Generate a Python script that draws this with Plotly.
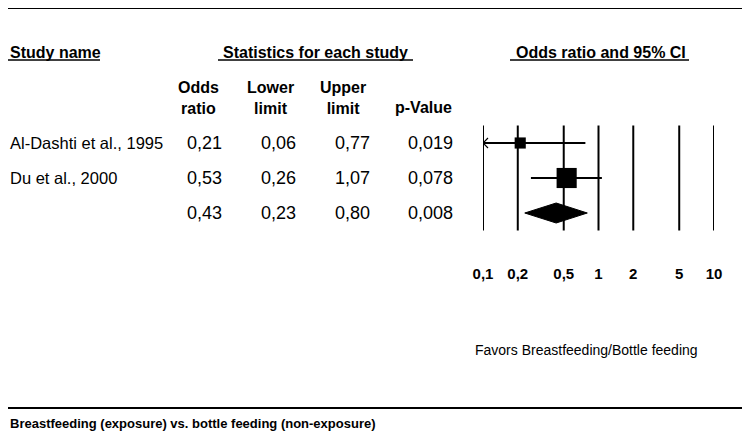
# forest plot: breastfeeding vs bottle feeding, odds ratios
import numpy as np
import plotly.graph_objects as go

# values
studies = ["Al-Dashti et al., 1995", "Du et al., 2000"]
odds_ratio = [0.21, 0.53]
lower = [0.06, 0.26]
upper = [0.77, 1.07]
p_value = [0.019, 0.078]
weights = [23.5, 76.5]  # relative weight (%), drives box size

pooled_or = 0.43
pooled_lower = 0.23
pooled_upper = 0.80
pooled_p = 0.008

or_ticks = [0.1, 0.2, 0.5, 1, 2, 5, 10]

# page geometry (pixels on the 750x434 page); the browser adds an 8px body margin
PAGE_W, PAGE_H = 750, 434
OFF = 8
FW, FH = PAGE_W - OFF, PAGE_H - OFF
FONT = "Liberation Sans, Arial, sans-serif"
ROW0, ROW_H = 108, 35        # row i sits at page y ROW0 + ROW_H*i
PLOT_BOTTOM = 263
X_LEFT, X_RIGHT = 483, 714   # 0.1 and 10 on the OR axis
DECADE_PX = (X_RIGHT - X_LEFT) / 2


def fmt(v, d=2):
    return f"{v:.{d}f}".replace(".", ",")


def px(p):
    return max(p - OFF, 0) / FW


def py(p):
    return 1 - max(p - OFF, 0) / FH


fig = go.Figure()

# study rows: CI line + weighted square
rows = list(range(1, len(studies) + 1))
xmin = or_ticks[0]
for r, o, lo, hi, w in zip(rows, odds_ratio, lower, upper, weights):
    lo_draw = max(lo, xmin)
    fig.add_trace(go.Scatter(x=[lo_draw, hi], y=[r, r], mode="lines",
                             line=dict(color="black", width=2), hoverinfo="skip"))
    if lo < xmin:
        # open arrowhead where the interval runs off the scale
        arm = xmin * 10 ** (5 / DECADE_PX)
        dy = 5 / ROW_H
        fig.add_trace(go.Scatter(x=[arm, xmin, arm], y=[r - dy, r, r + dy], mode="lines",
                                 line=dict(color="black", width=1.2), hoverinfo="skip"))
    fig.add_trace(go.Scatter(x=[o], y=[r], mode="markers",
                             marker=dict(symbol="square", color="black",
                                         size=23 * np.sqrt(w / 100), line=dict(width=0)),
                             hovertext=f"OR {fmt(o)} ({fmt(lo)}-{fmt(hi)})", hoverinfo="text"))

# pooled diamond
pr = len(studies) + 1
hd = 10 / ROW_H
fig.add_trace(go.Scatter(x=[pooled_lower, pooled_or, pooled_upper, pooled_or, pooled_lower],
                         y=[pr, pr - hd, pr, pr + hd, pr], mode="lines", fill="toself",
                         fillcolor="black", line=dict(color="black", width=1), hoverinfo="skip"))

shapes = []
# reference lines at each tick
for t in or_ticks:
    shapes.append(dict(type="line", xref="x", yref="y", x0=t, x1=t, y0=0.5, y1=pr + 0.5,
                       line=dict(color="black", width=2), layer="below"))
# rules at top and bottom of the figure
for yy in [8, 408]:
    shapes.append(dict(type="line", xref="paper", yref="paper", x0=0, x1=1,
                       y0=py(yy), y1=py(yy), line=dict(color="black", width=2)))
# header underlines
for x0, x1 in [(3, 100), (218, 413), (510, 689)]:
    shapes.append(dict(type="line", xref="paper", yref="paper", x0=px(x0), x1=px(x1),
                       y0=py(60), y1=py(60), line=dict(color="black", width=1.5)))

ann = []


def text(x, y, s, size=16, bold=False, anchor="center", yref="paper"):
    ann.append(dict(x=px(x), y=py(y) if yref == "paper" else y, xref="paper", yref=yref,
                    text=s, showarrow=False, xanchor=anchor, yanchor="middle",
                    font=dict(family=FONT, size=size, color="black",
                              weight="bold" if bold else "normal")))


text(3, 52, "Study name", bold=True, anchor="left")
text(315, 52, "Statistics for each study", bold=True)
text(601, 52, "Odds ratio and 95% CI", bold=True)
text(198, 98, "Odds<br>ratio", bold=True)
text(270, 98, "Lower<br>limit", bold=True)
text(343, 98, "Upper<br>limit", bold=True)
text(423, 107, "p-Value", bold=True)

# table columns, right edges in pixels
col_or, col_lo, col_hi, col_p = 224, 298, 372, 455
VS = 18  # value font size
for r, name, o, lo, hi, p in zip(rows, studies, odds_ratio, lower, upper, p_value):
    text(3, r, name, size=16.5, anchor="left", yref="y")
    text(col_or, r, fmt(o), size=VS, anchor="right", yref="y")
    text(col_lo, r, fmt(lo), size=VS, anchor="right", yref="y")
    text(col_hi, r, fmt(hi), size=VS, anchor="right", yref="y")
    text(col_p, r, fmt(p, 3), size=VS, anchor="right", yref="y")
text(col_or, pr, fmt(pooled_or), size=VS, anchor="right", yref="y")
text(col_lo, pr, fmt(pooled_lower), size=VS, anchor="right", yref="y")
text(col_hi, pr, fmt(pooled_upper), size=VS, anchor="right", yref="y")
text(col_p, pr, fmt(pooled_p, 3), size=VS, anchor="right", yref="y")

text(473, 350, "Favors Breastfeeding/Bottle feeding", size=14, anchor="left")
text(3, 423, "Breastfeeding (exposure) vs. bottle feeding (non-exposure)", size=13,
     bold=True, anchor="left")

fig.update_xaxes(
    type="log", range=[np.log10(or_ticks[0]), np.log10(or_ticks[-1])],
    domain=[px(X_LEFT), px(X_RIGHT)],
    tickvals=or_ticks, ticktext=[fmt(t, 1) if t < 1 else str(t) for t in or_ticks],
    tickfont=dict(family=FONT, size=15, color="black", weight="bold"),
    showgrid=False, zeroline=False, showline=False, ticks="", fixedrange=True,
    automargin=False,
)
fig.update_yaxes(
    range=[(PLOT_BOTTOM - ROW0) / ROW_H, (OFF - ROW0) / ROW_H],
    domain=[py(PLOT_BOTTOM), 1],
    visible=False, fixedrange=True, automargin=False,
)
fig.update_layout(
    width=FW, height=FH, margin=dict(l=0, r=0, t=0, b=0, autoexpand=False),
    plot_bgcolor="white", paper_bgcolor="white",
    showlegend=False, shapes=shapes, annotations=ann,
)
fig.write_html("out.html")
